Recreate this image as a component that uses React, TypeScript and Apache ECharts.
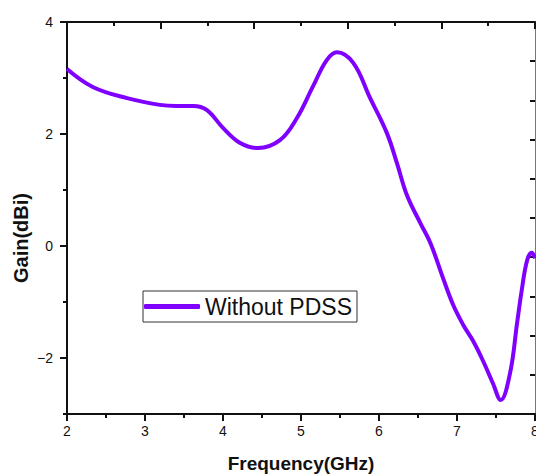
import React, { useEffect, useRef } from "react";
import * as echarts from "echarts";

const seriesName = "Without PDSS";
const xTitle = "Frequency(GHz)";
const yTitle = "Gain(dBi)";
const freq = [2.0, 2.33, 2.77, 3.19, 3.4, 3.62, 3.79, 4.0, 4.22, 4.45, 4.73, 4.95, 5.15, 5.33, 5.46, 5.67, 5.88, 6.1, 6.23, 6.36, 6.53, 6.66, 6.82, 6.95, 7.08, 7.2, 7.33, 7.46, 7.56, 7.68, 7.77, 7.83, 7.9, 7.96, 8.0];
const gain = [3.16, 2.84, 2.64, 2.52, 2.5, 2.5, 2.43, 2.11, 1.84, 1.75, 1.89, 2.29, 2.84, 3.32, 3.46, 3.27, 2.66, 2.02, 1.48, 0.9, 0.41, 0.05, -0.57, -1.05, -1.41, -1.68, -2.04, -2.45, -2.75, -2.27, -1.38, -0.79, -0.25, -0.12, -0.22];
const yMajorTicks = [-2, 0, 2, 4];
const yMinorTicks = [-3, -1, 1, 3];

const FONT = "'Liberation Sans', Arial, sans-serif";
const LINE_COLOR = "#7f00ff";
const AXIS = "#111";

export default function App() {
  const ref = useRef<HTMLDivElement>(null);
  useEffect(() => {
    if (!ref.current) return;
    const chart = echarts.init(ref.current, undefined, { renderer: "svg" });
    const data = freq.map((f, i) => [f, gain[i]]);
    chart.setOption({
      animation: false,
      backgroundColor: "#ffffff",
      grid: { left: 67, right: 1, top: 22, bottom: 62, containLabel: false, outerBoundsMode: "none" },
      legend: {
        left: 143,
        top: 291,
        data: [seriesName],
        icon: "roundRect",
        itemWidth: 56,
        itemHeight: 5,
        padding: [4, 5, 4, 1],
        borderColor: "#333",
        borderWidth: 1,
        textStyle: { fontSize: 23, fontFamily: FONT, color: "#111" },
      },
      graphic: [
        {
          type: "text",
          x: 21,
          y: 238,
          rotation: Math.PI / 2,
          style: {
            text: yTitle,
            align: "center",
            verticalAlign: "middle",
            font: `bold 20px ${FONT}`,
            fill: "#111",
          },
        },
      ],
      xAxis: [
        {
          type: "value",
          position: "bottom",
          min: 2,
          max: 8,
          interval: 1,
          name: xTitle,
          nameLocation: "middle",
          nameGap: 40,
          nameTextStyle: { fontSize: 19, fontWeight: "bold", fontFamily: FONT, color: "#111" },
          axisLine: { onZero: false, lineStyle: { color: AXIS, width: 2 } },
          axisTick: { show: true, inside: false, length: 7, lineStyle: { color: AXIS, width: 2 } },
          minorTick: { show: true, splitNumber: 2, length: 4, lineStyle: { color: AXIS, width: 2 } },
          axisLabel: { fontSize: 14, fontFamily: FONT, color: "#111", margin: 10 },
          splitLine: { show: false },
        },
        {
          type: "value",
          position: "top",
          min: 0,
          max: 10,
          interval: 2,
          axisLine: { onZero: false, lineStyle: { color: AXIS, width: 2 } },
          axisTick: { show: true, inside: true, length: 7, lineStyle: { color: AXIS, width: 2 } },
          minorTick: { show: true, splitNumber: 2, length: 4, lineStyle: { color: AXIS, width: 2 } },
          axisLabel: { show: false },
          splitLine: { show: false },
        },
      ],
      yAxis: [
        {
          type: "value",
          position: "left",
          min: -3,
          max: 4,
          interval: 1,
          axisLine: { onZero: false, lineStyle: { color: AXIS, width: 2 } },
          axisTick: { show: true, inside: false, length: 7, customValues: yMajorTicks, lineStyle: { color: AXIS, width: 2 } },
          axisLabel: {
            fontSize: 14,
            fontFamily: FONT,
            color: "#111",
            margin: 14,
            customValues: yMajorTicks,
            formatter: (v: number) => (v < 0 ? "\u2212" + Math.abs(v) : String(v)),
          },
          splitLine: { show: false },
        },
        {
          type: "value",
          position: "left",
          min: -3,
          max: 4,
          interval: 1,
          axisLine: { show: false, onZero: false },
          axisTick: { show: true, inside: false, length: 4, customValues: yMinorTicks, lineStyle: { color: AXIS, width: 2 } },
          axisLabel: { show: false },
          splitLine: { show: false },
        },
        {
          type: "value",
          position: "right",
          min: 0,
          max: 10,
          interval: 1,
          axisLine: { show: true, onZero: false, lineStyle: { color: "#777", width: 1 } },
          axisTick: { show: true, inside: true, length: 5, lineStyle: { color: AXIS, width: 2 } },
          axisLabel: { show: false },
          splitLine: { show: false },
        },
      ],
      series: [
        {
          name: seriesName,
          type: "line",
          xAxisIndex: 0,
          yAxisIndex: 0,
          data,
          smooth: 0.4,
          symbol: "none",
          lineStyle: { color: LINE_COLOR, width: 4 },
          itemStyle: { color: LINE_COLOR },
        },
      ],
    });
    return () => chart.dispose();
  }, []);
  return (
    <div
      ref={ref}
      style={{ position: "fixed", left: 0, top: 0, width: 536, height: 476, background: "#fff" }}
    />
  );
}
